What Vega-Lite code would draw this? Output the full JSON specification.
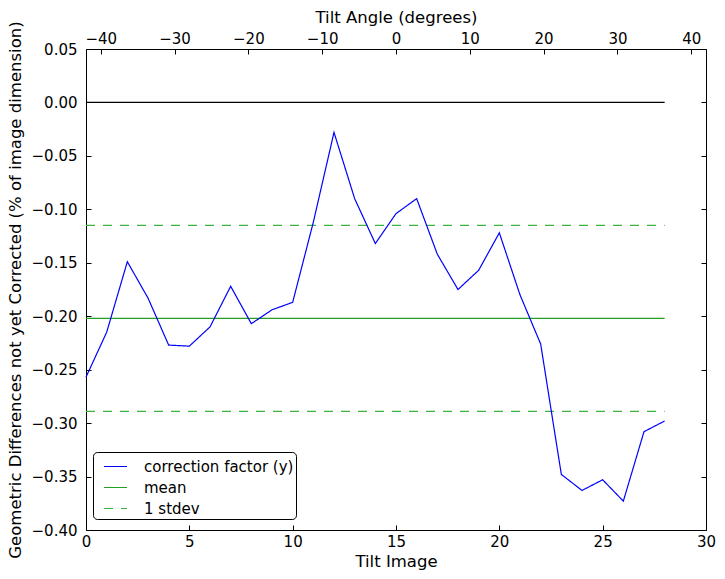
{
  "$schema": "https://vega.github.io/schema/vega-lite/v6.json",
  "width": 620,
  "height": 481,
  "autosize": {"type": "none"},
  "padding": {"left": 86, "top": 49, "right": 19, "bottom": 49},
  "datasets": {
    "series": [
      {"image": 0, "angle": -42, "value": -0.257, "series": "correction factor (y)"},
      {"image": 1, "angle": -39, "value": -0.215, "series": "correction factor (y)"},
      {"image": 2, "angle": -36, "value": -0.149, "series": "correction factor (y)"},
      {"image": 3, "angle": -33, "value": -0.183, "series": "correction factor (y)"},
      {"image": 4, "angle": -30, "value": -0.227, "series": "correction factor (y)"},
      {"image": 5, "angle": -27, "value": -0.228, "series": "correction factor (y)"},
      {"image": 6, "angle": -24, "value": -0.210, "series": "correction factor (y)"},
      {"image": 7, "angle": -21, "value": -0.172, "series": "correction factor (y)"},
      {"image": 8, "angle": -18, "value": -0.207, "series": "correction factor (y)"},
      {"image": 9, "angle": -15, "value": -0.194, "series": "correction factor (y)"},
      {"image": 10, "angle": -12, "value": -0.187, "series": "correction factor (y)"},
      {"image": 11, "angle": -9, "value": -0.112, "series": "correction factor (y)"},
      {"image": 12, "angle": -6, "value": -0.028, "series": "correction factor (y)"},
      {"image": 13, "angle": -3, "value": -0.090, "series": "correction factor (y)"},
      {"image": 14, "angle": 0, "value": -0.132, "series": "correction factor (y)"},
      {"image": 15, "angle": 3, "value": -0.104, "series": "correction factor (y)"},
      {"image": 16, "angle": 6, "value": -0.090, "series": "correction factor (y)"},
      {"image": 17, "angle": 9, "value": -0.142, "series": "correction factor (y)"},
      {"image": 18, "angle": 12, "value": -0.175, "series": "correction factor (y)"},
      {"image": 19, "angle": 15, "value": -0.157, "series": "correction factor (y)"},
      {"image": 20, "angle": 18, "value": -0.122, "series": "correction factor (y)"},
      {"image": 21, "angle": 21, "value": -0.180, "series": "correction factor (y)"},
      {"image": 22, "angle": 24, "value": -0.226, "series": "correction factor (y)"},
      {"image": 23, "angle": 27, "value": -0.348, "series": "correction factor (y)"},
      {"image": 24, "angle": 30, "value": -0.363, "series": "correction factor (y)"},
      {"image": 25, "angle": 33, "value": -0.353, "series": "correction factor (y)"},
      {"image": 26, "angle": 36, "value": -0.373, "series": "correction factor (y)"},
      {"image": 27, "angle": 39, "value": -0.308, "series": "correction factor (y)"},
      {"image": 28, "angle": 42, "value": -0.298, "series": "correction factor (y)"}
    ],
    "refs": [
      {"x0": 0, "x1": 28, "level": -0.202, "series": "mean"},
      {"x0": 0, "x1": 28, "level": -0.115, "series": "1 stdev"},
      {"x0": 0, "x1": 28, "level": -0.289, "series": "1 stdev"}
    ],
    "zero": [
      {"x0": 0, "x1": 28, "level": 0}
    ]
  },
  "layer": [
    {
      "layer": [
        {
          "data": {"name": "zero"},
          "mark": {"type": "rule", "color": "black", "strokeWidth": 1.2},
          "encoding": {
            "x": {"field": "x0", "type": "quantitative", "title": "Tilt Image",
                  "scale": {"domain": [0, 30], "nice": false, "zero": false},
                  "axis": {"orient": "bottom", "values": [0, 5, 10, 15, 20, 25, 30]}},
            "x2": {"field": "x1"},
            "y": {"field": "level", "type": "quantitative",
                  "title": "Geometric Differences not yet Corrected (% of image dimension)",
                  "scale": {"domain": [-0.4, 0.05], "nice": false, "zero": false},
                  "axis": {"orient": "left", "format": ".2f",
                           "values": [-0.4, -0.35, -0.3, -0.25, -0.2, -0.15, -0.1, -0.05, 0, 0.05]}}
          }
        },
        {
          "data": {"name": "refs"},
          "mark": {"type": "rule", "strokeWidth": 1.3},
          "encoding": {
            "x": {"field": "x0", "type": "quantitative", "title": "Tilt Image",
                  "axis": {"orient": "bottom", "values": [0, 5, 10, 15, 20, 25, 30]}},
            "x2": {"field": "x1"},
            "y": {"field": "level", "type": "quantitative",
                  "title": "Geometric Differences not yet Corrected (% of image dimension)",
                  "axis": {"orient": "left", "format": ".2f",
                           "values": [-0.4, -0.35, -0.3, -0.25, -0.2, -0.15, -0.1, -0.05, 0, 0.05]}},
            "color": {"field": "series", "type": "nominal",
                      "scale": {"domain": ["correction factor (y)", "mean", "1 stdev"], "range": ["#0000ff", "#22a022", "#3cb33c"]},
                      "legend": {"title": null}},
            "strokeDash": {"field": "series", "type": "nominal",
                      "scale": {"domain": ["correction factor (y)", "mean", "1 stdev"], "range": [[1, 0], [1, 0], [9, 8]]},
                      "legend": {"title": null}},
            "opacity": {"field": "series", "type": "nominal",
                      "scale": {"domain": ["correction factor (y)", "mean", "1 stdev"], "range": [1, 1, 0.75]},
                      "legend": null}
          }
        },
        {
          "data": {"name": "series"},
          "mark": {"type": "line", "strokeWidth": 1.2},
          "encoding": {
            "x": {"field": "image", "type": "quantitative", "title": "Tilt Image",
                  "axis": {"orient": "bottom", "values": [0, 5, 10, 15, 20, 25, 30]}},
            "y": {"field": "value", "type": "quantitative",
                  "title": "Geometric Differences not yet Corrected (% of image dimension)",
                  "axis": {"orient": "left", "format": ".2f",
                           "values": [-0.4, -0.35, -0.3, -0.25, -0.2, -0.15, -0.1, -0.05, 0, 0.05]}},
            "color": {"field": "series", "type": "nominal", "legend": {"title": null}},
            "strokeDash": {"field": "series", "type": "nominal", "legend": {"title": null}}
          }
        }
      ]
    },
    {
      "data": {"name": "series"},
      "mark": {"type": "point", "opacity": 0},
      "encoding": {
        "x": {"field": "angle", "type": "quantitative", "title": "Tilt Angle (degrees)",
              "scale": {"domain": [-42, 42], "nice": false, "zero": false},
              "axis": {"orient": "top", "values": [-40, -30, -20, -10, 0, 10, 20, 30, 40]}},
        "y": {"field": "value", "type": "quantitative", "title": null,
              "axis": {"orient": "right", "labels": false,
                       "values": [-0.4, -0.35, -0.3, -0.25, -0.2, -0.15, -0.1, -0.05, 0, 0.05]}}
      }
    }
  ],
  "resolve": {"scale": {"x": "independent"}, "axis": {"x": "independent", "y": "independent"}},
  "config": {
    "font": "DejaVu Sans",
    "view": {"stroke": "black", "strokeWidth": 1},
    "axis": {
      "domain": false, "grid": false, "ticks": true, "tickColor": "black", "tickSize": -5, "tickWidth": 1,
      "labelFont": "DejaVu Sans", "labelFontSize": 15, "labelColor": "black", "labelFlush": false, "labelOverlap": false,
      "labelExpr": "replace(datum.label, '-', '−')",
      "titleFont": "DejaVu Sans", "titleFontSize": 16.5, "titleFontWeight": "normal", "titleColor": "black"
    },
    "axisLeft": {"labelPadding": 14, "titlePadding": 8},
    "axisBottom": {"labelPadding": 9, "titlePadding": 4},
    "axisTop": {"labelPadding": 8, "titlePadding": 6},
    "legend": {
      "orient": "none", "legendX": 7, "legendY": 403,
      "strokeColor": "black", "strokeWidth": 1, "cornerRadius": 4, "padding": 2, "symbolOffset": 8, "fillColor": "white",
      "symbolType": "stroke", "symbolSize": 529, "symbolStrokeWidth": 1.2,
      "labelFont": "DejaVu Sans", "labelFontSize": 15, "labelColor": "black", "labelOffset": 16, "rowPadding": -1.5
    }
  }
}
